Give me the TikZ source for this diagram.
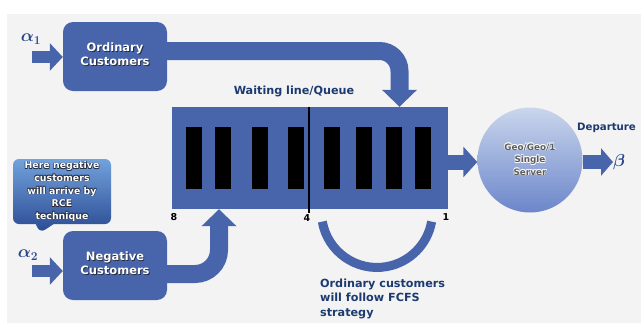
\documentclass[tikz,border=0pt]{standalone}
\usepackage{amsmath,bm}
\usepackage{fontspec}
\setmainfont{DejaVu Sans}
\usepackage{tikz}
\usetikzlibrary{arrows.meta,positioning,shapes.callouts}
\definecolor{qblue}{RGB}{72,101,172}
\definecolor{qdark}{RGB}{28,58,112}
\definecolor{qgreek}{RGB}{40,70,140}
\definecolor{qback}{RGB}{243,243,243}
\definecolor{qshadow}{RGB}{38,44,62}
\definecolor{srvtop}{RGB}{202,214,237}
\definecolor{srvbot}{RGB}{108,134,202}
\definecolor{caltop}{RGB}{114,162,220}
\definecolor{calbot}{RGB}{42,74,146}
\definecolor{srvtext}{RGB}{92,92,92}
\newcommand{\shadowtext}[2]{\leavevmode\rlap{\kern0.9pt\raisebox{-0.9pt}{\color{#1}#2}}#2}
\newcommand{\halotext}[2]{\leavevmode
  \rlap{\kern0.55pt\raisebox{0.55pt}{\color{#1}#2}}%
  \rlap{\kern-0.55pt\raisebox{0.55pt}{\color{#1}#2}}%
  \rlap{\kern0.55pt\raisebox{-0.55pt}{\color{#1}#2}}%
  \rlap{\kern-0.55pt\raisebox{-0.55pt}{\color{#1}#2}}#2}
\tikzset{
  custbox/.style={fill=qblue, rounded corners=10pt, minimum width=104pt,
    minimum height=69pt, inner sep=0pt, text=white,
    font=\bfseries\fontsize{11.5}{14}\selectfont},
  queuebox/.style={fill=qblue, minimum width=276pt, minimum height=102pt, inner sep=0pt},
  slot/.style={fill=black, minimum width=16pt, minimum height=62pt, inner sep=0pt},
  serverball/.style={circle, minimum size=105pt, inner sep=0pt, top color=srvtop,
    bottom color=srvbot, text=srvtext, font=\bfseries\fontsize{8.8}{12.5}\selectfont},
  notecall/.style={rectangle callout, rounded corners=6pt, minimum width=98pt,
    minimum height=65pt, inner sep=0pt, top color=caltop, bottom color=calbot,
    callout pointer width=18pt, text=white, font=\bfseries\fontsize{9.4}{12.7}\selectfont},
  headtext/.style={text=qdark, font=\bfseries\fontsize{11.2}{14.2}\selectfont, inner sep=0pt},
  posnum/.style={font=\bfseries\fontsize{9.5}{10}\selectfont, inner sep=0pt},
  greek/.style={text=qgreek, font=\fontsize{17}{17}\selectfont, inner sep=0pt},
  bigflow/.style={draw=qblue, line width=18pt, -{Triangle[width=34pt,length=17pt]}},
  midflow/.style={draw=qblue, line width=15pt, -{Triangle[width=30pt,length=14pt]}},
  inflow/.style={draw=qblue, line width=12pt, -{Triangle[width=27pt,length=13pt]}},
  fcfsarc/.style={draw=qblue, line width=9pt}
}
\begin{document}
\begin{tikzpicture}[x=1pt,y=-1pt]
  % page and backdrop
  \fill[white] (0,0) rectangle (641,327);
  \fill[qback] (7,14) rectangle (641,323);
  \useasboundingbox (0,0) rectangle (641,327);

  % sources
  \node[custbox] (ord) at (115,56.5) {\shadowtext{qshadow}{\begin{tabular}{@{}c@{}}Ordinary\\Customers\end{tabular}}};
  \node[custbox] (neg) at (115,265.5) {\shadowtext{qshadow}{\begin{tabular}{@{}c@{}}Negative\\Customers\end{tabular}}};
  \node[greek] (a1) at (31,39) {$\bm{\alpha_1}$};
  \node[greek] (a2) at (28,255) {$\bm{\alpha_2}$};
  \coordinate (a1in) at (32,57);
  \coordinate (a2in) at (32,271);
  \node[notecall, callout absolute pointer={(40,233)}] (note) at (62,191.5)
    {\halotext{qshadow}{\begin{tabular}{@{}c@{}}Here negative\\customers\\will arrive by\\RCE\\technique\end{tabular}}};

  % queue with eight places
  \node[queuebox] (queue) at (310,158) {};
  \foreach \sx [count=\i] in {194,222.5,260,296,331.5,364,393.5,422.5}
    \node[slot] (slot\i) at (\sx,158) {};
  \draw[black, line width=1.2pt] (309,107) -- (309,213);
  \node[headtext] (qlabel) at (294,91) {Waiting line/Queue};
  \node[posnum] (p8) at (174,217) {8};
  \node[posnum] (p4) at (307,218) {4};
  \node[posnum] (p1) at (446,217) {1};

  % server and departure
  \node[serverball] (server) at (530,160)
    {\halotext{white}{\begin{tabular}{@{}c@{}}Geo/Geo/1\\Single\\Server\end{tabular}}};
  \node[greek, anchor=west] (beta) at (613,162) {$\bm{\beta}$};
  \node[headtext, font=\bfseries\fontsize{10.2}{12}\selectfont, anchor=west] (dep) at (577,128) {Departure};

  % FCFS note
  \draw[fcfsarc] (322.3,221.6) arc[start angle=170, end angle=10, radius=55.5];
  \node[headtext, anchor=north west, align=left] (fcfs) at (320,279)
    {Ordinary customers\\will follow FCFS\\strategy};

  % flows
  \draw[inflow] (a1in) -- (a1in -| ord.west);
  \draw[inflow] (a2in) -- (a2in -| neg.west);
  \draw[bigflow, rounded corners=20pt] ([yshift=5.5pt]ord.east) -| ([xshift=89.5pt]queue.north);
  \draw[bigflow, rounded corners=24pt] ([yshift=-8.5pt]neg.east) -| ([xshift=-91pt]queue.south);
  \draw[midflow] ([yshift=-4pt]queue.east) -- ([yshift=-4pt]queue.east -| server.west);
  \draw[midflow, line width=14pt, -{Triangle[width=27pt,length=12pt]}] (server.east |- beta) -- (beta.west);
\end{tikzpicture}
\end{document}
